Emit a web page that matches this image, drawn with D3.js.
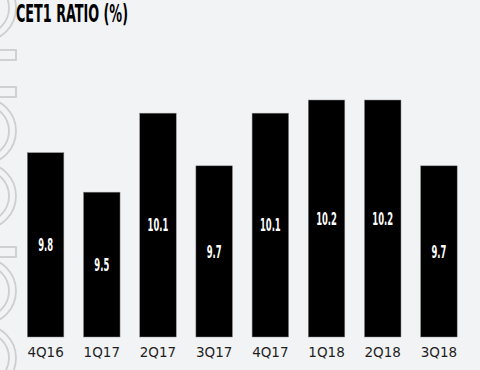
<!DOCTYPE html>
<html>
<head>
<meta charset="utf-8">
<script src="https://cdn.jsdelivr.net/npm/d3@7"></script>
<style>
  html, body { margin: 0; padding: 0; background: #f2f3f5; }
  svg { display: block; }
</style>
</head>
<body>
<svg id="chart" width="480" height="370"></svg>
<script>
// CET1 ratio by quarter
const quarters = ['4Q16', '1Q17', '2Q17', '3Q17', '4Q17', '1Q18', '2Q18', '3Q18']
const cet1 = [9.8, 9.5, 10.1, 9.7, 10.1, 10.2, 10.2, 9.7]
const title = 'CET1 RATIO (%)'

const width = 480, height = 370
const svg = d3.select('#chart')

svg.append('rect')
    .attr('width', width)
    .attr('height', height)
    .attr('fill', '#f2f3f5')

// faint outlined watermark down the left edge ("0" rings and "1" bars)
const deco = svg.append('g')
    .attr('fill', 'none')
    .attr('stroke', '#cdcecf')
    .attr('stroke-width', 1.8)

const rings = [8, 131, 196, 291, 358]
const slabs = [55, 92, 252]

rings.forEach( cy => {
    deco.append('circle').attr('cx', -17).attr('cy', cy).attr('r', 33)
    deco.append('circle').attr('cx', -17).attr('cy', cy).attr('r', 26)
} )
slabs.forEach( cy => {
    deco.append('rect').attr('x', -4).attr('y', cy - 5).attr('width', 20).attr('height', 10)
} )

const x = d3.scaleBand()
    .domain( quarters )
    .range( [ 17.5, 467 ] )
    .paddingInner( 0.35 )
    .paddingOuter( 0.175 )

const y = d3.scaleLinear()
    .domain( [ 8.4, 10.2 ] )
    .range( [ 337, 100 ] )

svg.append('text')
    .attr('x', 16)
    .attr('y', 22)
    .attr('font-family', 'DejaVu Sans Condensed, DejaVu Sans, sans-serif')
    .attr('font-weight', 'bold')
    .attr('font-size', 25)
    .attr('fill', '#000')
    .attr('textLength', 112)
    .attr('lengthAdjust', 'spacingAndGlyphs')
    .text( title )

const bars = svg.append('g')

bars.selectAll('rect')
    .data( cet1 )
    .join('rect')
    .attr('x', ( d, i ) => x( quarters[i] ) )
    .attr('y', d => y( d ) )
    .attr('width', x.bandwidth() )
    .attr('height', d => y( 8.4 ) - y( d ) )
    .attr('fill', '#000')
    .attr('stroke', '#8a8a8a')
    .attr('stroke-width', 0.5)

bars.selectAll('text')
    .data( cet1 )
    .join('text')
    .attr('transform', ( d, i ) => {
        const cx = x( quarters[i] ) + x.bandwidth() / 2
        const cy = ( y( d ) + y( 8.4 ) ) / 2
        return `translate( ${cx}, ${cy} ) scale( 0.55, 1 )`
    } )
    .attr('text-anchor', 'middle')
    .attr('dy', '0.36em')
    .attr('font-family', 'DejaVu Sans Condensed, DejaVu Sans, sans-serif')
    .attr('font-weight', 'bold')
    .attr('font-size', 17)
    .attr('fill', '#fff')
    .text( d => d.toFixed(1) )

const axis = d3.axisBottom( x ).tickSize(0).tickPadding(0)

svg.append('g')
    .attr('transform', `translate( 0, 347 )`)
    .call( axis )
    .call( g => g.select('.domain').remove() )
    .call( g => g.selectAll('text')
        .attr('dy', '0.72em')
        .attr('font-family', 'DejaVu Sans, sans-serif')
        .attr('font-size', 13.5)
        .attr('fill', '#1e1e1e') )
</script>
</body>
</html>
